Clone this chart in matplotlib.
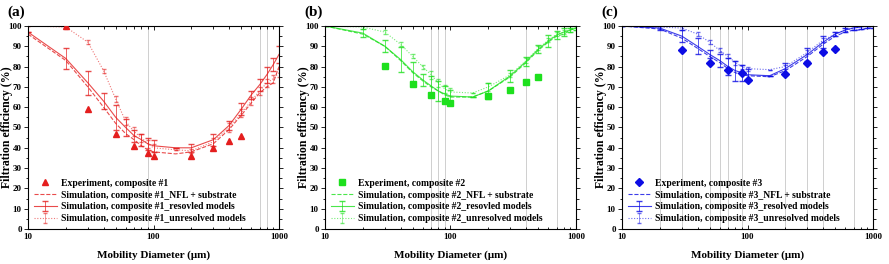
"""Filtration efficiency vs mobility diameter for three composites."""

import matplotlib.pyplot as plt
from matplotlib.ticker import FixedLocator, MultipleLocator, NullFormatter

plt.rcParams["font.family"] = ["Liberation Serif", "DejaVu Serif"]
plt.rcParams["font.weight"] = "bold"

# shared simulation diameters (um)
diameter = [10, 20, 30, 40, 50, 60, 70, 80, 90, 100, 150, 200, 300, 400, 500,
            600, 700, 800, 900, 1000]
exp_diameter = [20, 30, 50, 70, 90, 100, 200, 300, 400, 500]

# composite #1
exp_1 = [100, 59, 47, 41, 37.5, 36, 36, 40, 43.5, 46]
nfl_1 = [96, 83, 70, 60, 52, 47, 44, 41, 39, 38, 37, 38, 42, 49, 56, 62, 67, 70, 72, 80]
res_1 = [97, 84, 72, 63, 55, 50, 46, 44, 42, 41, 40, 40, 44, 51, 59, 66, 71, 76, 81, 86]
unres_1 = [100, 99.5, 92, 78, 64, 53, 48, 45, 42, 40, 39, 38.5, 43, 50, 57, 63, 68, 72, 74, 77]
err_res_1 = [0, 5, 6, 4, 6, 4, 3, 3, 3, 3, 0, 2, 3, 2, 3, 2, 3, 4, 3, 4]
err_unres_1 = [0, 1, 1, 1, 1.5, 2, 2, 2, 2, 2, 0, 1, 2, 2, 2, 2, 2, 2, 2, 2]

# composite #2
exp_2 = [None, 80.5, 71.5, 66, 63, 62, 65.5, 68.5, 72.5, 75]
nfl_2 = [100, 96, 90, 83, 77, 73, 70, 68, 66, 65, 65, 68, 75, 82, 88, 92, 95, 96, 98, 99]
res_2 = [100, 96.5, 90, 83.5, 77.5, 73.5, 70.5, 68, 66.5, 65.5, 65, 68, 75.5, 82.5, 88.5, 92.5, 95.5, 97, 98, 99]
unres_2 = [100, 99.5, 97, 91, 85, 80, 76, 72, 69, 67.5, 67, 70, 76, 83, 89, 93, 96, 97, 98, 99]
err_res_2 = [0, 2, 3, 6, 5, 3, 5, 5, 4, 3, 0, 4, 3, 2, 2, 3, 2, 2, 1, 1]
err_unres_2 = [0, 1, 1, 1, 1, 1, 2, 2, 2, 2, 0, 2, 1, 1, 1, 1, 1, 1, 1, 1]

# composite #3
exp_3 = [None, 88, 82, 78.5, 77, 73.5, 76.5, 82, 87, 88.5]
nfl_3 = [100, 98.5, 94, 89, 85, 82, 79, 77, 76, 75.5, 75, 78, 85, 91, 95, 97, 98, 98, 99, 99]
res_3 = [100, 99, 95, 90, 86, 83, 80, 78, 77, 76, 75.5, 79, 86, 92, 96, 98, 99, 99.5, 100, 100]
unres_3 = [100, 99.5, 99, 96, 92, 88, 85, 82, 80, 79, 78.5, 80, 87, 93, 96, 98, 99, 99.5, 100, 100]
err_res_3 = [0, 1, 3, 4, 2, 3, 4, 5, 4, 3, 0, 3, 3, 3, 1, 1, 1, 1, 1, 1]
err_unres_3 = [0, 1, 1, 1, 1, 1, 1, 1, 1, 1, 0, 1, 1, 1, 1, 1, 1, 1, 1, 1]

guide_lines = [
    [90, 700, 800],
    [70, 80, 90, 400, 700, 1000],
    [20, 30, 50, 60, 70, 90, 200, 300, 400, 700],
]

panels = [
    ("(a)", "#e41e1e", "^", "#1", exp_1, nfl_1, res_1, unres_1, err_res_1, err_unres_1,
     "_resovled models"),
    ("(b)", "#1ee01e", "s", "#2", exp_2, nfl_2, res_2, unres_2, err_res_2, err_unres_2,
     "_resovled models"),
    ("(c)", "#0c0ce4", "D", "#3", exp_3, nfl_3, res_3, unres_3, err_res_3, err_unres_3,
     "_resolved models"),
]

figure = plt.figure(figsize=(8.89, 2.64), dpi=100)
lefts = [28, 325, 622]
width = 251
bottom = 35
height = 203

for index, (tag, color, marker, name, exp, nfl, res, unres, err_res, err_unres,
            res_suffix) in enumerate(panels):
    axes = figure.add_axes([lefts[index] / 889, bottom / 264, width / 889, height / 264])
    for x in guide_lines[index]:
        axes.axvline(x, color="#c8c8c8", linewidth=0.6, zorder=0)

    exp_x = [x for x, y in zip(exp_diameter, exp) if y is not None]
    exp_y = [y for y in exp if y is not None]
    marker_size = 4.5 if marker != "D" else 4
    axes.plot(exp_x, exp_y, linestyle="none", marker=marker, color=color,
              markersize=marker_size, label=f"Experiment, composite {name}", zorder=4)
    axes.plot(diameter, nfl, linestyle="--", color=color, linewidth=0.8, alpha=0.8,
              label=f"Simulation, composite {name}_NFL + substrate")
    axes.errorbar(diameter, res, yerr=err_res, linestyle="-", color=color,
                  linewidth=0.8, alpha=0.8, elinewidth=0.6, capsize=2,
                  label=f"Simulation, composite {name}{res_suffix}")
    axes.errorbar(diameter, unres, yerr=err_unres, linestyle=(0, (1, 1.5)), color=color,
                  linewidth=0.8, alpha=0.6, elinewidth=0.5, capsize=1.5,
                  label=f"Simulation, composite {name}_unresolved models")

    axes.set_xscale("log")
    axes.set_xlim(10, 1000)
    axes.set_ylim(0, 100)
    axes.set_yticks(range(0, 101, 10))
    axes.yaxis.set_minor_locator(MultipleLocator(5))
    axes.xaxis.set_minor_locator(FixedLocator(
        [m * 10 ** e for e in (1, 2) for m in range(2, 10)]))
    axes.xaxis.set_minor_formatter(NullFormatter())
    axes.set_xticks([10, 100, 1000])
    axes.set_xticklabels(["10", "100", "1000"])
    axes.tick_params(axis="x", which="both", direction="in", top=True,
                     labelsize=6.5, width=0.6, pad=3)
    axes.tick_params(axis="y", which="both", direction="out", right=True,
                     labelsize=6.5, width=0.6, pad=1.5)
    axes.tick_params(which="major", length=3)
    axes.tick_params(which="minor", length=1.8)
    for spine in axes.spines.values():
        spine.set_linewidth(0.8)

    axes.set_xlabel("Mobility Diameter (\u03bcm)", fontsize=8, fontweight="bold",
                    labelpad=7)
    axes.set_ylabel("Filtration efficiency (%)", fontsize=8.5, fontweight="bold")
    axes.yaxis.set_label_coords(-15 / width, 0.5)
    axes.legend(loc="lower left", bbox_to_anchor=(0.0, 0.0), frameon=False,
                fontsize=6.9, handlelength=2.4, handletextpad=0.4,
                labelspacing=0.3, borderaxespad=0.2)
    figure.text((lefts[index] - 21) / 889, 1 - 12 / 264, tag, fontsize=11,
                fontweight="bold", va="center", ha="left")

figure.savefig("out.png", dpi=100)
